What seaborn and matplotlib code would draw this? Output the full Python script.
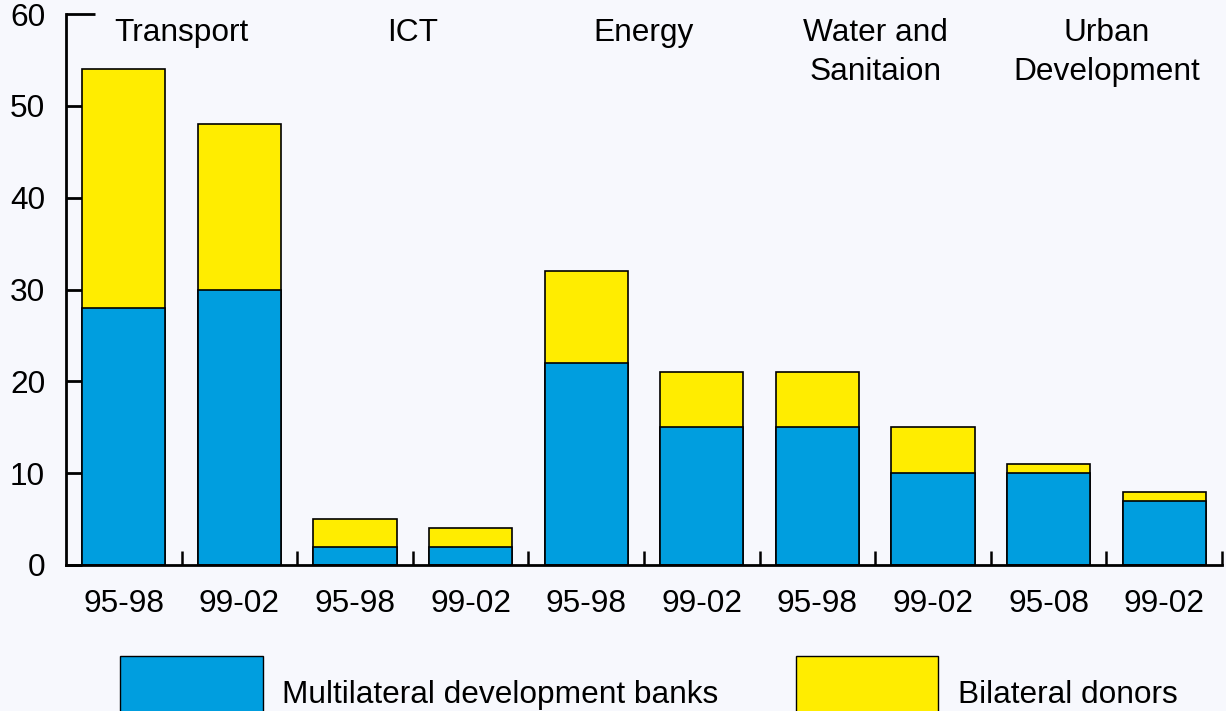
import pandas as pd
import matplotlib.pyplot as plt
import seaborn as sns

# --- DATA ---
SECTORS = ["Transport", "ICT", "Energy", "Water and\nSanitaion", "Urban\nDevelopment"]
PERIODS = ["95-98", "99-02", "95-98", "99-02", "95-98", "99-02", "95-98", "99-02", "95-08", "99-02"]
MULTILATERAL = [28, 30, 2, 2, 22, 15, 15, 10, 10, 7]
BILATERAL = [26, 18, 3, 2, 10, 6, 6, 5, 1, 1]

BLUE = "#009EDF"
YELLOW = "#FFED00"
BG = "#F7F8FD"
FS = 22.8

df = pd.DataFrame({
    "slot": [f"{i}" for i in range(len(PERIODS))],
    "period": PERIODS,
    "multilateral": MULTILATERAL,
    "bilateral": BILATERAL,
})
df["total"] = df["multilateral"] + df["bilateral"]

sns.set_theme(style="white", rc={"ytick.left": True, "xtick.bottom": True,
                                 "text.color": "black", "xtick.color": "black",
                                 "ytick.color": "black", "axes.labelcolor": "black"})
plt.rcParams["font.family"] = ["Liberation Sans", "DejaVu Sans"]
plt.rcParams["figure.facecolor"] = BG
plt.rcParams["axes.facecolor"] = BG

fig = plt.figure(figsize=(12.26, 7.11), dpi=100)
ax = fig.add_axes([66 / 1226, 1 - 565 / 711, 1156 / 1226, 551 / 711])

# yellow = total, blue drawn over it
sns.barplot(data=df, x="slot", y="total", color=YELLOW, saturation=1, width=0.72,
            edgecolor="black", linewidth=1.2, ax=ax)
sns.barplot(data=df, x="slot", y="multilateral", color=BLUE, saturation=1, width=0.72,
            edgecolor="black", linewidth=1.2, ax=ax)

ax.set_xlim(-0.5, len(PERIODS) - 0.5)
ax.set_ylim(0, 60)
ax.set_xlabel("")
ax.set_ylabel("")

for s in ["top", "right"]:
    ax.spines[s].set_visible(False)
for s in ["left", "bottom"]:
    ax.spines[s].set_linewidth(2)
    ax.spines[s].set_color("black")

ax.set_yticks(range(0, 61, 10))
ax.tick_params(axis="y", direction="in", length=11.5, width=1.8, color="black",
               labelsize=FS, pad=15, left=True, labelcolor="black")

ax.set_xticks(range(len(PERIODS)))
ax.set_xticklabels(df["period"])
ax.set_xticks([i + 0.5 for i in range(len(PERIODS))], minor=True)
ax.tick_params(axis="x", which="major", length=0, labelsize=FS, pad=17, labelcolor="black")
ax.tick_params(axis="x", which="minor", direction="in", length=10, width=1.8,
               color="black", bottom=True)

# make sure the inward y ticks show; the top one is longer
yticks = ax.yaxis.get_major_ticks()
for t in yticks:
    t.tick1line.set_visible(True)
    t.tick1line.set_markersize(11.5)
    t.tick1line.set_markeredgewidth(2)
    t.tick1line.set_color("black")
    t.tick1line.set_zorder(5)
yticks[-1].tick1line.set_markersize(21)

for i, name in enumerate(SECTORS):
    ax.text(2 * i + 0.5, 59.6, name, ha="center", va="top", fontsize=FS,
            linespacing=1.4, color="black")

handles = [plt.Rectangle((0, 0), 1, 1, facecolor=BLUE, edgecolor="black", linewidth=1),
           plt.Rectangle((0, 0), 1, 1, facecolor=YELLOW, edgecolor="black", linewidth=1)]
fig.legend(handles, ["Multilateral development banks", "Bilateral donors"],
           loc="upper left", bbox_to_anchor=(120 / 1226, 1 - 656 / 711), ncol=2,
           frameon=False, fontsize=FS, handlelength=4.5, handleheight=3.35,
           handletextpad=0.62, columnspacing=2.45, borderpad=0, borderaxespad=0,
           labelcolor="black")

fig.savefig("out.png", dpi=100, facecolor=BG)
